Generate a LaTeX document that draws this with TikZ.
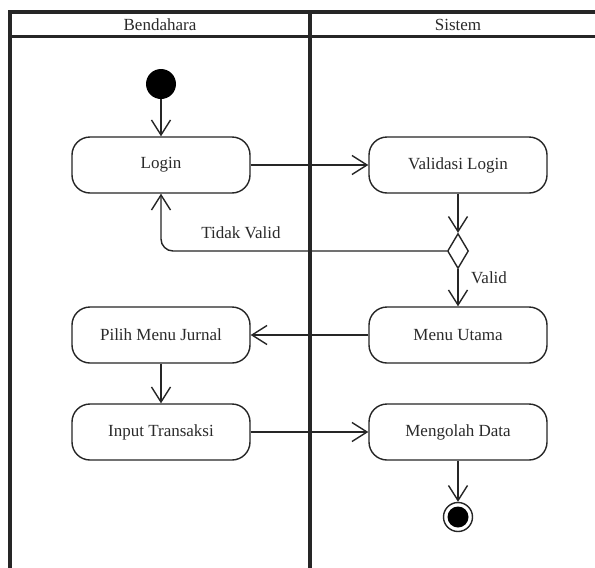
\documentclass[tikz,border=0pt]{standalone}
\usepackage{fontspec}
\setmainfont{Liberation Serif}
\usetikzlibrary{arrows.meta,shapes.geometric}
\definecolor{txt}{HTML}{2A2A2A}
\begin{document}
\begin{tikzpicture}[x=1pt,y=-1pt,
  lane/.style={line width=3.2pt,draw=black!85},
  act/.style={draw=black!85,line width=1.4pt,rounded corners=18pt,minimum width=178pt,minimum height=56pt,inner sep=0pt,font=\fontsize{17}{20}\selectfont,text=txt},
  flow/.style={draw=black!85,line width=1.4pt,-{Straight Barb[length=15pt,width=19pt,line width=1.4pt]}},
  lbl/.style={font=\fontsize{17}{20}\selectfont,text=txt,inner sep=0pt}]
\useasboundingbox (0,0) rectangle (595,568);
\fill[white] (0,0) rectangle (595,568);
% swimlanes
\draw[lane] (10,568) -- (10,12) -- (595,12);
\draw[lane] (10,36.5) -- (595,36.5);
\draw[lane] (310,12) -- (310,568);
\node[lbl] (h1) at (160,24.5) {Bendahara};
\node[lbl] (h2) at (458,24.5) {Sistem};
% nodes
\node[circle,fill=black,minimum size=30pt,inner sep=0pt] (start) at (161,84) {};
\node[act] (login) at (161,165) {Login};
\node[act] (valid) at (458,165) {Validasi Login};
\node[diamond,draw=black!85,line width=1.4pt,minimum width=21pt,minimum height=35pt,inner sep=0pt] (dec) at (458,251) {};
\node[act] (menu) at (458,335) {Menu Utama};
\node[act] (pilih) at (161,335) {Pilih Menu Jurnal};
\node[act] (input) at (161,432) {Input Transaksi};
\node[act] (olah) at (458,432) {Mengolah Data};
\node[circle,draw=black!85,line width=1.4pt,minimum size=29pt,inner sep=0pt] (end) at (458,517) {};
\node[circle,fill=black,minimum size=21pt,inner sep=0pt] (endin) at (458,517) {};
% flows
\draw[flow] (start) -- (login);
\draw[flow] (login) -- (valid);
\draw[flow] (valid) -- (dec);
\draw[flow,rounded corners=12pt] (dec.west) -- (login.south |- dec.west) -- (login.south);
\node[lbl] (tv) at (241,233) {Tidak Valid};
\draw[flow] (dec) -- (menu);
\node[lbl] (v) at (489,278) {Valid};
\draw[flow] (menu) -- (pilih);
\draw[flow] (pilih) -- (input);
\draw[flow] (input) -- (olah);
\draw[flow] (olah) -- (end);
\end{tikzpicture}
\end{document}
